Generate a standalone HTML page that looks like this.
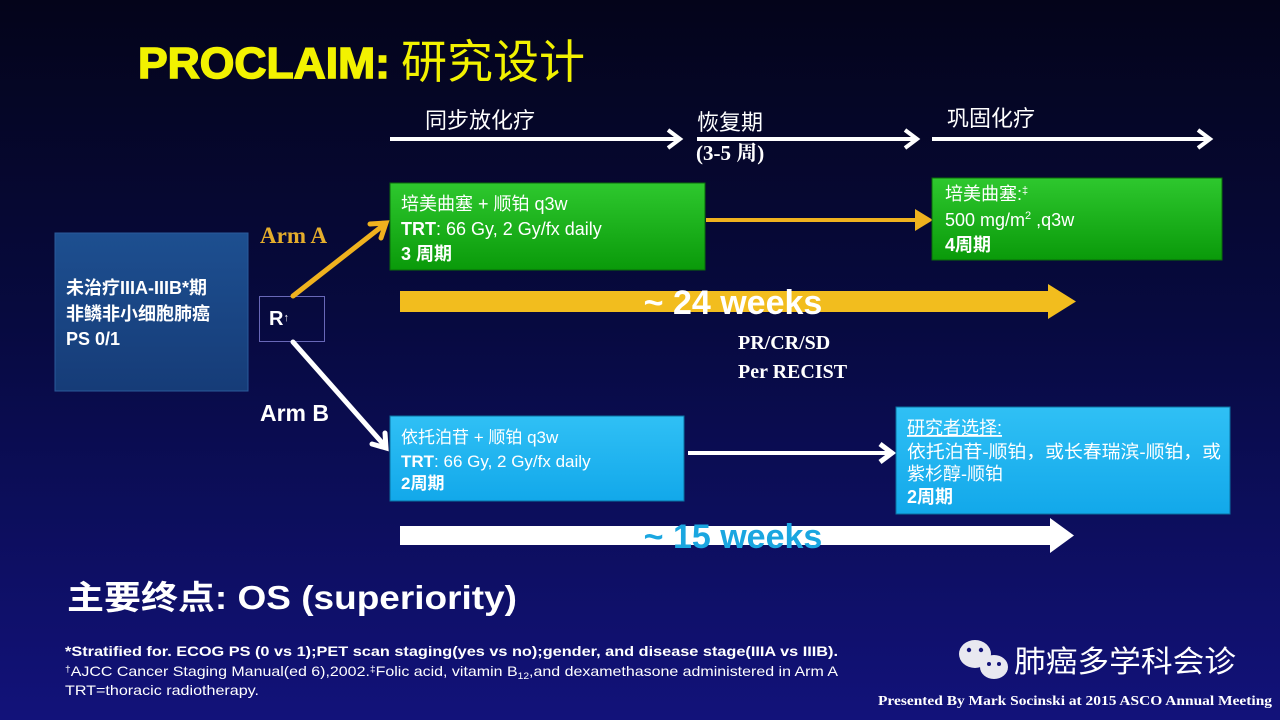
<!DOCTYPE html>
<html><head><meta charset="utf-8"><style>
html,body{margin:0;padding:0;background:#06061f;}
svg{display:block;}
text{font-family:"Liberation Sans","Noto Sans CJK SC",sans-serif;}
.s{font-family:"Liberation Serif","Noto Serif CJK SC",serif;}
</style></head><body>
<svg width="1280" height="720" viewBox="0 0 1280 720" xmlns="http://www.w3.org/2000/svg">
<defs>
<linearGradient id="bg" x1="0" y1="0" x2="0" y2="1">
<stop offset="0" stop-color="#04041a"/><stop offset="0.45" stop-color="#070a40"/><stop offset="1" stop-color="#12127a"/>
</linearGradient>
<linearGradient id="gr" x1="0" y1="0" x2="0" y2="1">
<stop offset="0" stop-color="#2ec82e"/><stop offset="1" stop-color="#0a9a0a"/>
</linearGradient>
<linearGradient id="cy" x1="0" y1="0" x2="0" y2="1">
<stop offset="0" stop-color="#30c0f5"/><stop offset="1" stop-color="#12a8ea"/>
</linearGradient>
<linearGradient id="lb" x1="0" y1="0" x2="0" y2="1">
<stop offset="0" stop-color="#1d4f90"/><stop offset="1" stop-color="#163c78"/>
</linearGradient>
</defs>
<rect width="1280" height="720" fill="url(#bg)"/>

<text x="138" y="78" font-size="44" font-weight="bold" fill="#f2f200" stroke="#f2f200" stroke-width="1.5" textLength="252" lengthAdjust="spacingAndGlyphs">PROCLAIM:</text>
<text x="401" y="78" font-size="46" fill="#f2f200">研究设计</text>

<!-- top timeline -->
<g stroke="#fff" stroke-width="4" fill="none">
<line x1="390" y1="139" x2="678" y2="139"/><polyline points="668,130 680,139 668,148"/>
<line x1="697" y1="139" x2="915" y2="139"/><polyline points="905,130 917,139 905,148"/>
<line x1="932" y1="139" x2="1208" y2="139"/><polyline points="1198,130 1210,139 1198,148"/>
</g>
<text x="425" y="128" font-size="22" fill="#fff">同步放化疗</text>
<text x="697" y="130" font-size="22" fill="#fff">恢复期</text>
<text x="696" y="160" class="s" font-size="21" font-weight="bold" fill="#fff">(3-5 周)</text>
<text x="947" y="126" font-size="22" fill="#fff">巩固化疗</text>

<!-- left box -->
<rect x="55" y="233" width="193" height="158" fill="url(#lb)" stroke="#2a5a9a" stroke-width="1"/>
<text x="66" y="294" font-size="18" font-weight="bold" fill="#fff">未治疗IIIA-IIIB*期</text>
<text x="66" y="320" font-size="18" font-weight="bold" fill="#fff">非鳞非小细胞肺癌</text>
<text x="66" y="345" font-size="18" font-weight="bold" fill="#fff">PS 0/1</text>

<rect x="259.5" y="296.5" width="65" height="45" fill="none" stroke="#6868b8" stroke-width="1"/>
<text x="269" y="325" font-size="20" font-weight="bold" fill="#fff">R<tspan font-size="11" dy="-4">↑</tspan></text>

<text x="260" y="243" class="s" font-size="23" font-weight="bold" fill="#e5ad2c">Arm A</text>
<text x="260" y="421" font-size="23" font-weight="bold" fill="#fff">Arm B</text>

<!-- arm arrows -->
<g stroke="#efb21e" stroke-width="5" fill="none" stroke-linecap="round">
<line x1="293" y1="296" x2="385" y2="224"/><polyline points="370,224 386,223 381,238"/>
</g>
<g stroke="#fff" stroke-width="5" fill="none" stroke-linecap="round">
<line x1="293" y1="342" x2="385" y2="446"/><polyline points="372,444 386,448 385,433"/>
</g>

<!-- green boxes -->
<rect x="390" y="183" width="315" height="87" fill="url(#gr)" stroke="#0a6a0a"/>
<text x="401" y="210" font-size="18" fill="#fff">培美曲塞 + 顺铂 q3w</text>
<text x="401" y="235" font-size="18" fill="#fff"><tspan font-weight="bold">TRT</tspan>: 66 Gy, 2 Gy/fx daily</text>
<text x="401" y="260" font-size="18" font-weight="bold" fill="#fff">3 周期</text>

<line x1="706" y1="220" x2="920" y2="220" stroke="#efb21e" stroke-width="4"/>
<polygon points="915,209 933,220 915,231" fill="#efb21e"/>

<rect x="932" y="178" width="290" height="82" fill="url(#gr)" stroke="#0a6a0a"/>
<text x="945" y="200" font-size="18" fill="#fff">培美曲塞:<tspan font-size="11" dy="-6">‡</tspan></text>
<text x="945" y="226" font-size="18" fill="#fff">500 mg/m<tspan font-size="11" dy="-7">2</tspan><tspan dy="7"> ,q3w</tspan></text>
<text x="945" y="251" font-size="18" font-weight="bold" fill="#fff">4周期</text>

<!-- 24 weeks arrow -->
<rect x="400" y="291" width="650" height="21" fill="#f2bd1e"/>
<polygon points="1048,284 1076,301.5 1048,319" fill="#f2bd1e"/>
<text x="733" y="314" text-anchor="middle" font-size="34" font-weight="bold" fill="#fff">~ 24 weeks</text>

<text x="738" y="349" class="s" font-size="20" font-weight="bold" fill="#fff">PR/CR/SD</text>
<text x="738" y="378" class="s" font-size="20" font-weight="bold" fill="#fff">Per RECIST</text>

<!-- cyan boxes -->
<rect x="390" y="416" width="294" height="85" fill="url(#cy)" stroke="#0a70a0"/>
<text x="401" y="443" font-size="17" fill="#fff">依托泊苷 + 顺铂 q3w</text>
<text x="401" y="467" font-size="17" fill="#fff"><tspan font-weight="bold">TRT</tspan>: 66 Gy, 2 Gy/fx daily</text>
<text x="401" y="489" font-size="17" font-weight="bold" fill="#fff">2周期</text>

<line x1="688" y1="453" x2="890" y2="453" stroke="#fff" stroke-width="4"/>
<polyline points="880,444 892,453 880,462" stroke="#fff" stroke-width="5" fill="none"/>

<rect x="896" y="407" width="334" height="107" fill="url(#cy)" stroke="#0a70a0"/>
<text x="907" y="434" font-size="18" fill="#fff" text-decoration="underline">研究者选择:</text>
<text x="907" y="458" font-size="18" fill="#fff" textLength="314" lengthAdjust="spacingAndGlyphs">依托泊苷-顺铂，或长春瑞滨-顺铂，或</text>
<text x="907" y="480" font-size="18" fill="#fff">紫杉醇-顺铂</text>
<text x="907" y="503" font-size="18" font-weight="bold" fill="#fff">2周期</text>

<!-- 15 weeks arrow -->
<rect x="400" y="526" width="650" height="19" fill="#fff"/>
<polygon points="1050,518 1074,535.5 1050,553" fill="#fff"/>
<text x="733" y="548" text-anchor="middle" font-size="34" font-weight="bold" fill="#1aa6e0">~ 15 weeks</text>

<text x="67" y="609" font-size="33" font-weight="bold" fill="#fff" textLength="450" lengthAdjust="spacingAndGlyphs">主要终点: OS (superiority)</text>

<text x="65" y="656" font-size="14" font-weight="bold" fill="#fff" textLength="773" lengthAdjust="spacingAndGlyphs">*Stratified for. ECOG PS (0 vs 1);PET scan staging(yes vs no);gender, and disease stage(IIIA vs IIIB).</text>
<text x="65" y="676" font-size="14" fill="#fff" textLength="773" lengthAdjust="spacingAndGlyphs"><tspan font-size="9" dy="-4">†</tspan><tspan dy="4">AJCC Cancer Staging Manual(ed 6),2002.</tspan><tspan font-size="9" dy="-4">‡</tspan><tspan dy="4">Folic acid, vitamin B</tspan><tspan font-size="9" dy="3">12</tspan><tspan dy="-3">,and dexamethasone administered in Arm A</tspan></text>
<text x="65" y="695" font-size="14" fill="#fff" textLength="194" lengthAdjust="spacingAndGlyphs">TRT=thoracic radiotherapy.</text>

<!-- wechat logo -->
<g fill="#e8e8f0">
<ellipse cx="975" cy="654" rx="16" ry="14"/>
<ellipse cx="994" cy="667" rx="14" ry="12"/>
</g>
<g fill="#14147a">
<circle cx="969" cy="650" r="2.2"/><circle cx="981" cy="650" r="2.2"/>
<circle cx="989" cy="664" r="2"/><circle cx="999" cy="664" r="2"/>
</g>
<text x="1014" y="672" font-size="30" fill="#fff" textLength="222" lengthAdjust="spacingAndGlyphs">肺癌多学科会诊</text>

<text x="878" y="705" class="s" font-size="14" font-weight="bold" fill="#fff" textLength="394" lengthAdjust="spacingAndGlyphs">Presented By Mark Socinski at 2015 ASCO Annual Meeting</text>
</svg>
</body></html>
